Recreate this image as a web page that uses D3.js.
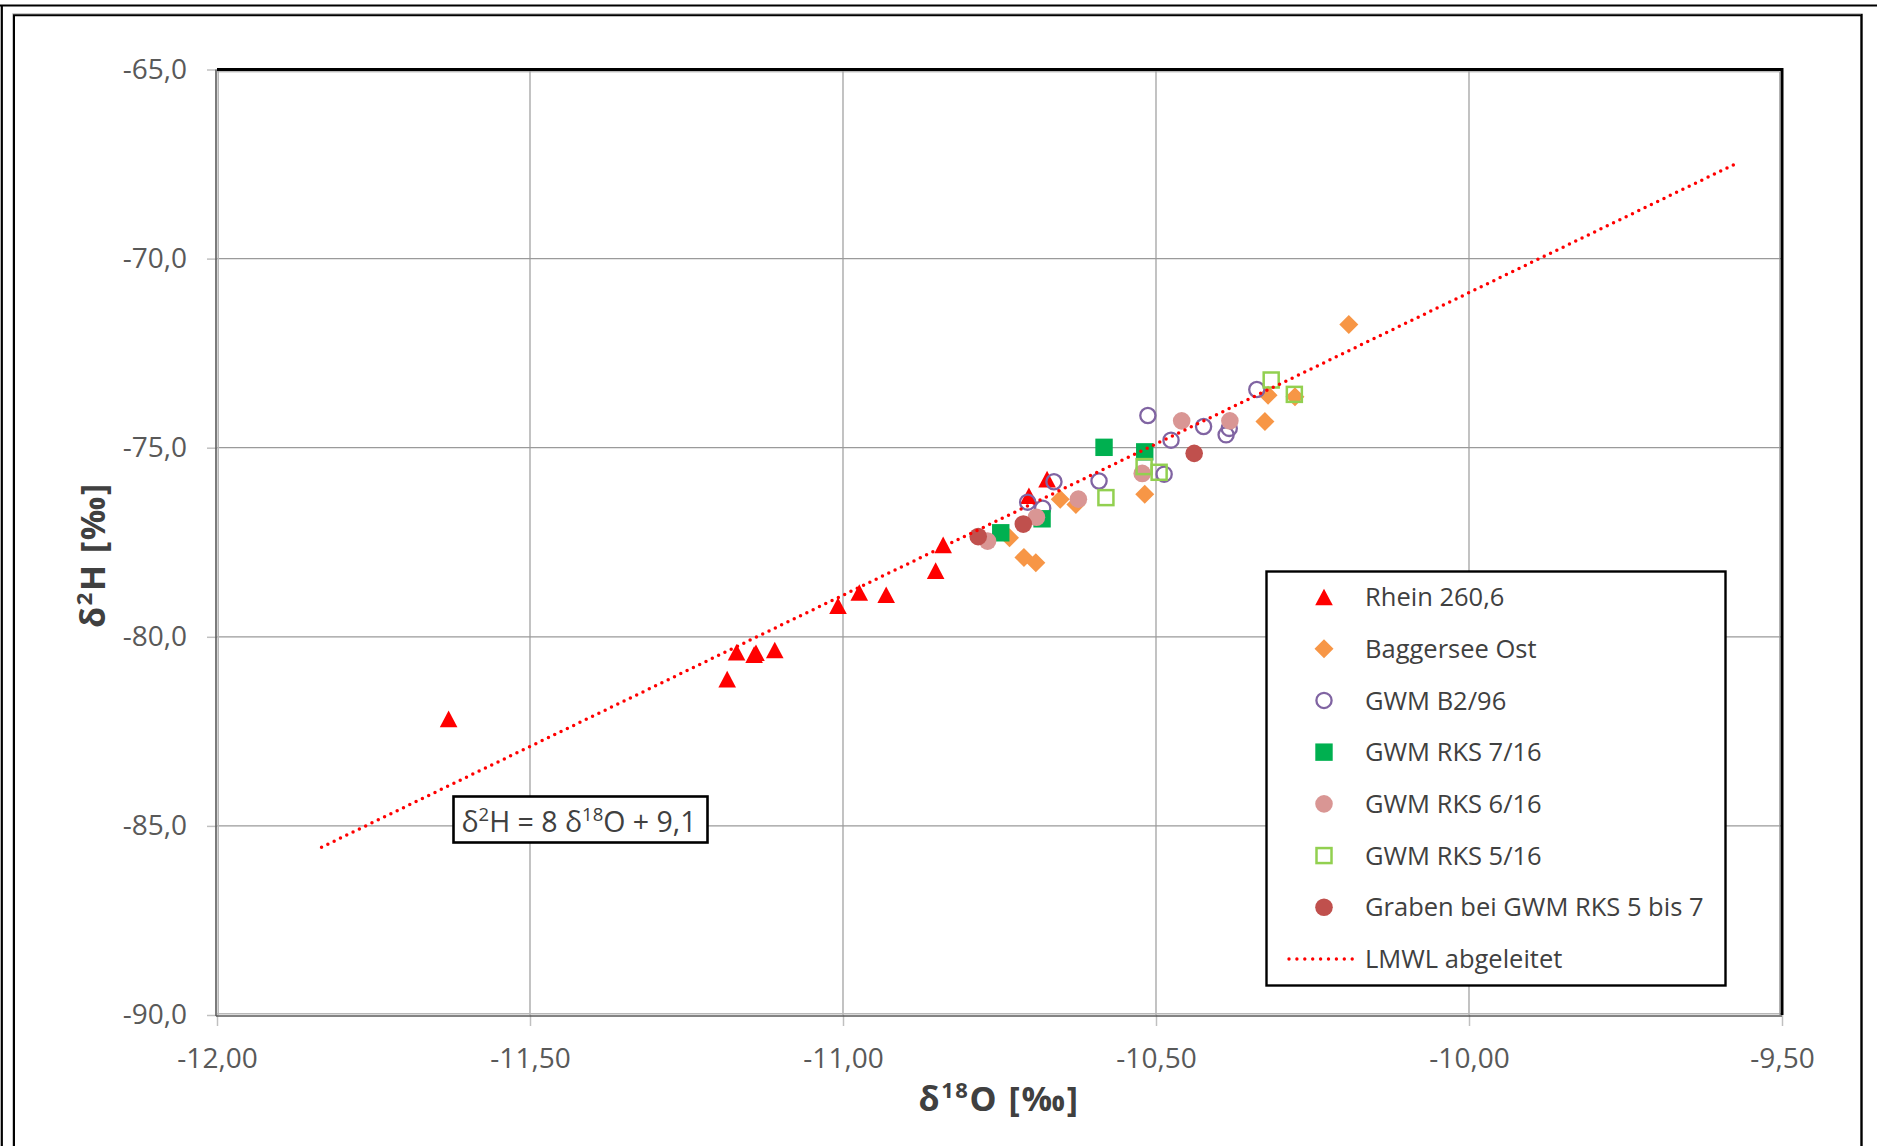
<!DOCTYPE html>
<html><head><meta charset="utf-8">
<script src="https://cdn.jsdelivr.net/npm/d3@7"></script>
<style>
body{margin:0;background:#fff}
svg{display:block}
text{font-family:"Open Sans","Noto Sans",sans-serif}
</style>
</head><body>
<svg id="c" width="1877" height="1146"></svg>
<script>
// ---------- data ----------
const xTicks = [-12, -11.5, -11, -10.5, -10, -9.5];
const xTickLabels = ["-12,00", "-11,50", "-11,00", "-10,50", "-10,00", "-9,50"];
const yTicks = [-90, -85, -80, -75, -70, -65];
const yTickLabels = ["-90,0", "-85,0", "-80,0", "-75,0", "-70,0", "-65,0"];

const seriesNames = ["Rhein 260,6", "Baggersee Ost", "GWM B2/96", "GWM RKS 7/16",
  "GWM RKS 6/16", "GWM RKS 5/16", "Graben bei GWM RKS 5 bis 7", "LMWL abgeleitet"];

const rheinX = [-11.630, -11.185, -11.170, -11.142, -11.139, -11.109, -11.008, -10.974, -10.931, -10.852, -10.840, -10.703, -10.674];
const rheinY = [-82.17, -81.12, -80.41, -80.47, -80.42, -80.35, -79.18, -78.83, -78.89, -78.25, -77.57, -76.27, -75.83];

const baggX = [-10.192, -10.321, -10.278, -10.326, -10.518, -10.653, -10.628, -10.734, -10.711, -10.692];
const baggY = [-71.74, -73.61, -73.65, -74.31, -76.23, -76.36, -76.50, -77.38, -77.90, -78.04];

const b296X = [-10.339, -10.513, -10.424, -10.383, -10.388, -10.476, -10.487, -10.591, -10.663, -10.705, -10.681];
const b296Y = [-73.46, -74.15, -74.44, -74.49, -74.66, -74.80, -75.70, -75.88, -75.90, -76.44, -76.60];

const rks7X = [-10.583, -10.518, -10.682, -10.748];
const rks7Y = [-74.99, -75.11, -76.88, -77.25];

const rks6X = [-10.459, -10.382, -10.522, -10.624, -10.691, -10.769];
const rks6Y = [-74.29, -74.29, -75.68, -76.36, -76.84, -77.47];

const rks5X = [-10.316, -10.279, -10.519, -10.495, -10.580];
const rks5Y = [-73.21, -73.59, -75.50, -75.65, -76.32];

const grabX = [-10.439, -10.712, -10.784];
const grabY = [-75.15, -77.02, -77.35];

const lmwlX = [-11.833, -9.577];
const lmwlY = [-85.564, -67.516];

const equationParts = ["δ", "2", "H = 8 δ", "18", "O + 9,1"];

// ---------- layout ----------
const svg = d3.select("#c");
const L = 217, R = 1782, T = 69.5, B = 1015;
const x = d3.scaleLinear().domain([-12, -9.5]).range([L, R]);
const y = d3.scaleLinear().domain([-90, -65]).range([B, T]);

// outer frames
svg.append("line").attr("x1", 0).attr("x2", 1877).attr("y1", 5.5).attr("y2", 5.5).attr("stroke", "#000").attr("stroke-width", 2.2);
svg.append("line").attr("x1", 1.8).attr("x2", 1.8).attr("y1", 5).attr("y2", 1146).attr("stroke", "#000").attr("stroke-width", 2.2);
svg.append("path").attr("d", "M13.8,1146 V15 H1861.5 V1146").attr("fill", "none").attr("stroke", "#000").attr("stroke-width", 2.4);
svg.append("path").attr("d", "M12.5,1146 V13.8 H1861").attr("fill", "none").attr("stroke", "#c8c8c8").attr("stroke-width", 1);

// gridlines
const g = svg.append("g");
g.selectAll(".vg").data(xTicks.slice(1, -1)).enter().append("line")
  .attr("x1", d => x(d)).attr("x2", d => x(d)).attr("y1", T).attr("y2", B)
  .attr("stroke", "#9a9a9a").attr("stroke-width", 1.2);
g.selectAll(".hg").data(yTicks.slice(1, -1)).enter().append("line")
  .attr("x1", L).attr("x2", R).attr("y1", d => y(d)).attr("y2", d => y(d))
  .attr("stroke", "#9a9a9a").attr("stroke-width", 1.2);

// axes with d3
const xAxis = d3.axisBottom(x).tickValues(xTicks).tickSize(11).tickPadding(22)
  .tickFormat((d, i) => xTickLabels[i]);
const yAxis = d3.axisLeft(y).tickValues(yTicks).tickSize(10).tickPadding(20)
  .tickFormat((d, i) => yTickLabels[i]);
const gx = svg.append("g").attr("transform", `translate(0,${B})`).call(xAxis);
const gy = svg.append("g").attr("transform", `translate(${L},0)`).call(yAxis);
[gx, gy].forEach(a => {
  a.select(".domain").remove();
  a.selectAll(".tick line").attr("stroke", "#c0c0c0").attr("stroke-width", 1.5);
  a.selectAll(".tick text").attr("fill", "#595959").style("font-size", "28px")
    .style("font-family", "'Open Sans','Noto Sans',sans-serif");
});
gx.selectAll(".tick text").attr("dy", "0.71em");

// plot frame
svg.append("line").attr("x1", L - 1).attr("x2", L - 1).attr("y1", T).attr("y2", B + 1).attr("stroke", "#5a5a5a").attr("stroke-width", 1.6);
svg.append("line").attr("x1", L + 1.2).attr("x2", L + 1.2).attr("y1", T).attr("y2", B).attr("stroke", "#b8b8b8").attr("stroke-width", 1.6);
svg.append("line").attr("x1", L - 1).attr("x2", R).attr("y1", B + 1).attr("y2", B + 1).attr("stroke", "#5a5a5a").attr("stroke-width", 1.6);
svg.append("line").attr("x1", L).attr("x2", R).attr("y1", B - 1.2).attr("y2", B - 1.2).attr("stroke", "#b8b8b8").attr("stroke-width", 1.6);
svg.append("path").attr("d", `M${L},${T} H${R} V${B}`).attr("fill", "none").attr("stroke", "#000").attr("stroke-width", 3);
svg.append("path").attr("d", `M${L},${T + 2.3} H${R - 2.3} V${B}`).attr("fill", "none").attr("stroke", "#a0a0a0").attr("stroke-width", 1);

// marker drawing helpers
function marker(sel, type) {
  if (type === "tri") return sel.append("path").attr("d", "M0,-8.3 L8.8,8.3 L-8.8,8.3 Z").attr("fill", "#FF0000");
  if (type === "dia") return sel.append("path").attr("d", "M0,-9.5 L9.5,0 L0,9.5 L-9.5,0 Z").attr("fill", "#F79646");
  if (type === "ocirc") return sel.append("circle").attr("r", 7.6).attr("fill", "none").attr("stroke", "#8064A2").attr("stroke-width", 2.3);
  if (type === "sq") return sel.append("rect").attr("x", -8.7).attr("y", -8.7).attr("width", 17.4).attr("height", 17.4).attr("fill", "#00B050");
  if (type === "pcirc") return sel.append("circle").attr("r", 8.8).attr("fill", "#D99694");
  if (type === "osq") return sel.append("rect").attr("x", -7.5).attr("y", -7.5).attr("width", 15).attr("height", 15).attr("fill", "none").attr("stroke", "#92D050").attr("stroke-width", 2.5);
  if (type === "gcirc") return sel.append("circle").attr("r", 8.8).attr("fill", "#C0504D");
}

const series = [
  {xs: rheinX, ys: rheinY, t: "tri"},
  {xs: baggX, ys: baggY, t: "dia"},
  {xs: b296X, ys: b296Y, t: "ocirc"},
  {xs: rks7X, ys: rks7Y, t: "sq"},
  {xs: rks6X, ys: rks6Y, t: "pcirc"},
  {xs: rks5X, ys: rks5Y, t: "osq"},
  {xs: grabX, ys: grabY, t: "gcirc"}
];

const plot = svg.append("g");
series.forEach(s => {
  const pts = s.xs.map((v, i) => [v, s.ys[i]]);
  plot.append("g").selectAll("g").data(pts).enter().append("g")
    .attr("transform", d => `translate(${x(d[0])},${y(d[1])})`)
    .each(function () { marker(d3.select(this), s.t); });
});

// LMWL line
const line = d3.line().x(d => x(d[0])).y(d => y(d[1]));
plot.append("path").datum(lmwlX.map((v, i) => [v, lmwlY[i]])).attr("d", line)
  .attr("fill", "none").attr("stroke", "#FF0000").attr("stroke-width", 3.5)
  .attr("stroke-linecap", "round").attr("stroke-dasharray", "0 7");

// equation box
svg.append("rect").attr("x", 453.5).attr("y", 796.5).attr("width", 254).attr("height", 46)
  .attr("fill", "#fff").attr("stroke", "#000").attr("stroke-width", 2.6);
const eq = svg.append("text").attr("x", 579).attr("y", 832).attr("text-anchor", "middle")
  .attr("fill", "#404040").style("font-size", "28.5px");
eq.append("tspan").text(equationParts[0]);
eq.append("tspan").text(equationParts[1]).style("font-size", "18.5px").attr("dy", -11);
eq.append("tspan").text(equationParts[2]).attr("dy", 11);
eq.append("tspan").text(equationParts[3]).style("font-size", "18.5px").attr("dy", -11);
eq.append("tspan").text(equationParts[4]).attr("dy", 11);

// axis titles
const xt = svg.append("text").attr("x", 999).attr("y", 1111).attr("text-anchor", "middle")
  .attr("fill", "#404040").style("font-size", "34px").style("font-weight", "bold").style("letter-spacing", "1.6px");
xt.append("tspan").text("δ");
xt.append("tspan").text("18").style("font-size", "22px").attr("dy", -13);
xt.append("tspan").text("O [‰]").attr("dy", 13);

const yt = svg.append("text").attr("transform", "translate(105,555) rotate(-90)").attr("text-anchor", "middle")
  .attr("fill", "#404040").style("font-size", "34px").style("font-weight", "bold").style("letter-spacing", "1.6px");
yt.append("tspan").text("δ");
yt.append("tspan").text("2").style("font-size", "22px").attr("dy", -13);
yt.append("tspan").text("H [‰]").attr("dy", 13);

// legend
const lg = svg.append("g");
lg.append("rect").attr("x", 1266.5).attr("y", 571.5).attr("width", 459).attr("height", 414)
  .attr("fill", "#fff").attr("stroke", "#000").attr("stroke-width", 2.4);
const types = ["tri", "dia", "ocirc", "sq", "pcirc", "osq", "gcirc"];
const rowY = d3.scaleLinear().domain([0, 7]).range([597, 959]);
seriesNames.forEach((name, i) => {
  const yy = rowY(i);
  if (i < 7) {
    marker(lg.append("g").attr("transform", `translate(1324,${yy})`), types[i]);
  } else {
    lg.append("line").attr("x1", 1289).attr("x2", 1353).attr("y1", yy).attr("y2", yy)
      .attr("stroke", "#FF0000").attr("stroke-width", 3.4).attr("stroke-linecap", "round").attr("stroke-dasharray", "0 7.9");
  }
  lg.append("text").attr("x", 1365).attr("y", yy).attr("dy", "0.36em")
    .attr("fill", "#404040").style("font-size", "25.5px").text(name);
});
</script>
</body></html>
